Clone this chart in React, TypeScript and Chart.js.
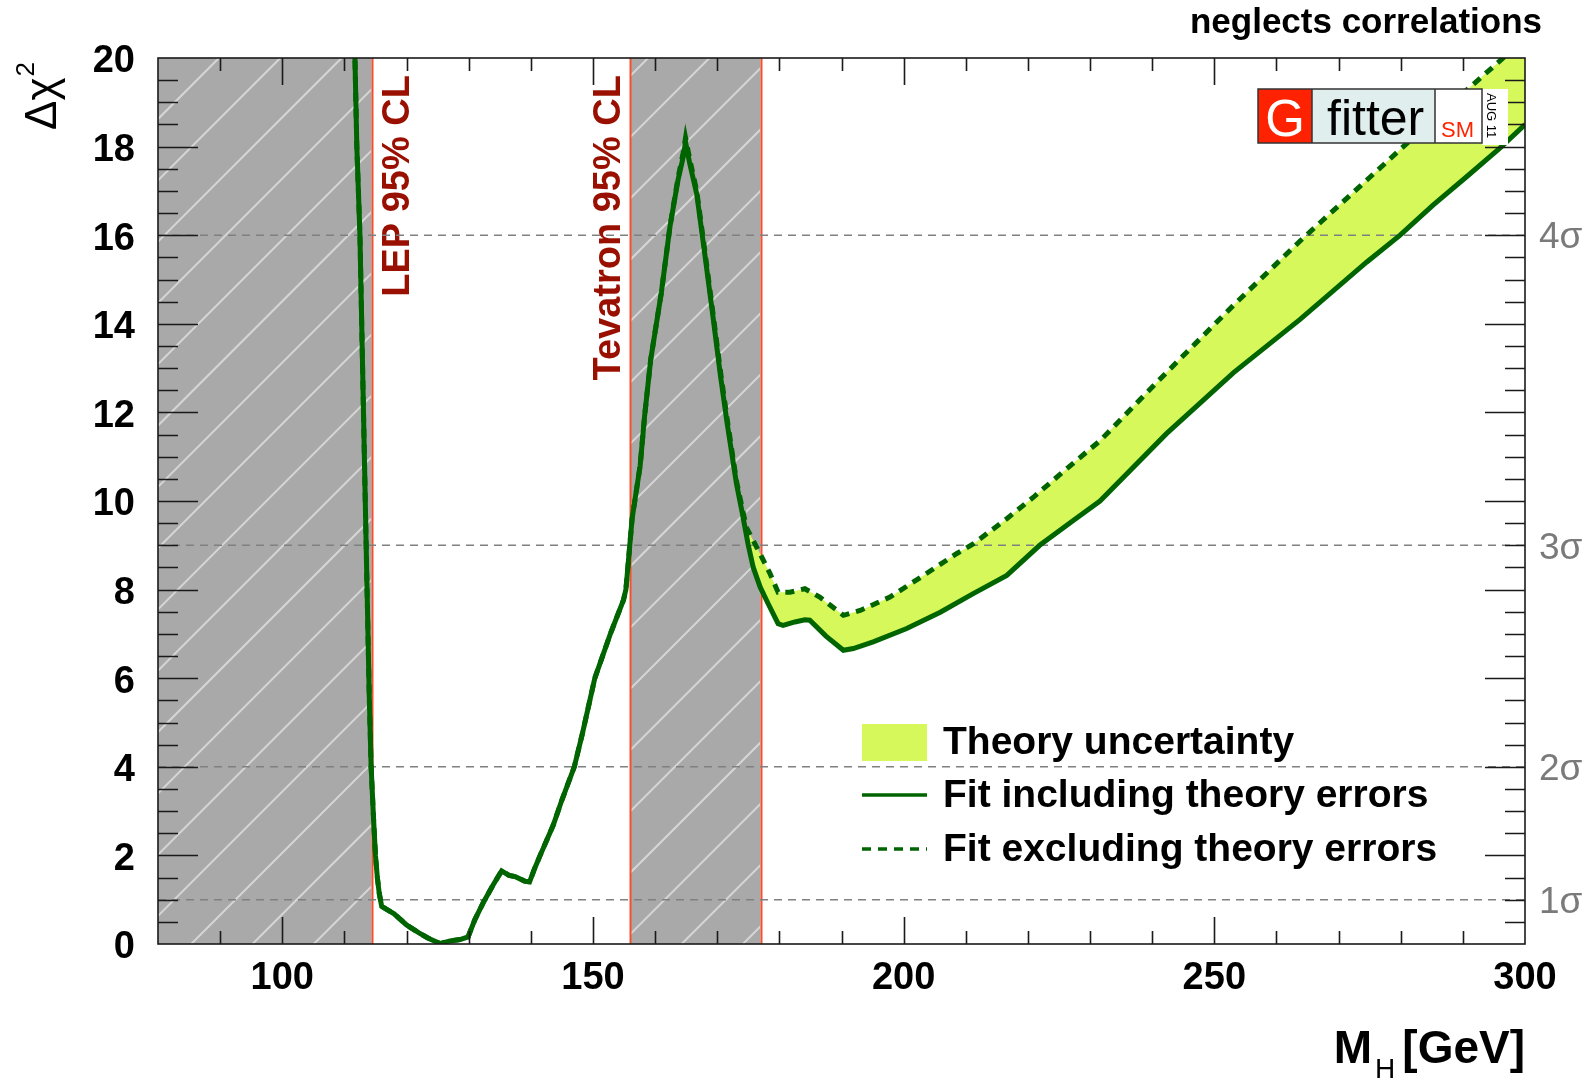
import { useEffect, useRef } from "react";
import { Chart, registerables } from "chart.js";

Chart.register(...registerables);

// ---- data ----
const massIncl = [
  111.65, 112.0, 112.5, 113.0, 113.5, 114.0, 114.3, 114.7, 115.0, 115.3, 115.6, 116.0, 116.8, 118.0, 120.0,
  122.0, 123.5, 125.4, 127.0, 128.6, 129.9, 131.0, 132.4, 134.0, 135.3, 136.5, 137.5, 139.0, 139.8, 140.6,
  141.5, 143.6, 145.0, 147.0, 148.3, 149.5, 150.3, 152.8, 154.9, 155.3, 155.8, 156.3, 157.6, 158.3, 159.3,
  161.0, 162.4, 163.7, 164.5, 164.9, 165.6, 166.7, 168.0, 169.4, 170.5, 171.6, 173.1, 174.0, 175.0, 175.8,
  176.9, 178.2, 179.8, 180.6, 182.5, 184.1, 184.9, 187.5, 190.3, 191.9, 195.1, 200.5, 205.9, 211.2, 216.6,
  221.9, 227.3, 231.6, 242.3, 253.1, 263.8, 274.5, 279.9, 285.2, 290.6, 296.0, 300.0,
];
const chi2Incl = [
  20.3, 18.0, 16.0, 12.5, 9.0, 5.6, 4.0, 2.8, 2.0, 1.5, 1.15, 0.85, 0.78, 0.68, 0.43,
  0.25, 0.13, 0.01, 0.07, 0.1, 0.16, 0.55, 0.95, 1.35, 1.65, 1.55, 1.52, 1.42, 1.4, 1.7,
  2.0, 2.68, 3.25, 4.0, 4.75, 5.5, 6.0, 7.0, 7.76, 8.0, 8.8, 9.6, 10.8, 11.9, 13.2,
  14.7, 16.2, 17.25, 17.75, 18.1, 17.6, 16.93, 15.57, 14.07, 12.85, 11.75, 10.39, 9.75, 9.0, 8.5,
  8.06, 7.68, 7.23, 7.19, 7.27, 7.32, 7.31, 6.95, 6.63, 6.67, 6.82, 7.12, 7.49, 7.91, 8.32,
  9.0, 9.56, 10.0, 11.52, 12.9, 14.1, 15.39, 16.0, 16.68, 17.32, 17.97, 18.5,
];
const massExcl = [
  111.65, 112.0, 112.5, 113.0, 113.5, 114.0, 114.3, 114.7, 115.0, 115.3, 115.6, 116.0, 116.8, 118.0, 120.0,
  122.0, 123.5, 125.4, 127.0, 128.6, 129.9, 131.0, 132.4, 134.0, 135.3, 136.5, 137.5, 139.0, 139.8, 140.6,
  141.5, 143.6, 145.0, 147.0, 148.3, 149.5, 150.3, 152.8, 154.9, 155.3, 155.8, 156.3, 157.6, 158.3, 159.3,
  161.0, 162.4, 163.7, 164.5, 164.9, 165.6, 166.7, 168.0, 169.4, 170.5, 171.6, 173.1, 174.0, 174.7, 176.9,
  178.5, 179.8, 181.7, 184.1, 186.5, 190.3, 193.0, 197.8, 203.2, 208.5, 211.2, 216.6, 221.0, 226.0, 231.6,
  242.3, 253.1, 263.8, 274.5, 285.2, 296.0, 300.0,
];
const chi2Excl = [
  20.3, 18.0, 16.0, 12.5, 9.0, 5.6, 4.0, 2.8, 2.0, 1.5, 1.15, 0.85, 0.78, 0.68, 0.43,
  0.25, 0.13, 0.01, 0.07, 0.1, 0.16, 0.55, 0.95, 1.35, 1.65, 1.55, 1.52, 1.42, 1.4, 1.7,
  2.0, 2.68, 3.25, 4.0, 4.75, 5.5, 6.0, 7.0, 7.76, 8.0, 8.8, 9.6, 10.8, 11.9, 13.2,
  14.7, 16.2, 17.3, 17.85, 18.2, 17.7, 17.0, 15.65, 14.15, 12.95, 11.85, 10.45, 9.85, 9.4, 8.81,
  8.36, 7.94, 7.94, 8.02, 7.83, 7.42, 7.53, 7.83, 8.32, 8.81, 9.03, 9.6, 10.1, 10.7, 11.36,
  12.9, 14.42, 15.87, 17.24, 18.61, 19.94, 20.45,
];

const sigmaLevels = [1, 4, 9, 16];
const sigmaLabels = ["1σ", "2σ", "3σ", "4σ"];
const excludedRanges = [
  [80, 114.4],
  [156, 177],
];
const exclusionEdges = [114.4, 156, 177];
const exclusionLabels = ["LEP 95% CL", "Tevatron 95% CL"];
const exclusionLabelAt = [114.4, 156];
const legendLabels = ["Theory uncertainty", "Fit including theory errors", "Fit excluding theory errors"];
const X_MIN = 80;
const X_MAX = 300;
const Y_MIN = 0;
const Y_MAX = 20;
const X_MAJOR = 50;
const X_MINOR = 10;
const Y_MAJOR = 2;
const Y_MINOR = 0.5;

// ---- style ----
const FONT = '"Liberation Sans", Arial, Helvetica, sans-serif';
const GREEN = "#006400";
const BAND = "#d6f85a";
const GRAY_BAND = "#a9a9a9";
const HATCH = "#d6d6d6";
const RED_EDGE = "#f5502d";
const DARK_RED = "#990f00";

const decorPlugin = {
  id: "decor",
  beforeDatasetsDraw(chart: any) {
    const { ctx, chartArea: a, scales } = chart;
    const x = scales.x;
    ctx.save();
    // grey excluded regions with hatching
    excludedRanges.forEach(([lo, hi]) => {
      const x0 = x.getPixelForValue(lo);
      const x1 = x.getPixelForValue(hi);
      ctx.save();
      ctx.beginPath();
      ctx.rect(x0, a.top, x1 - x0, a.bottom - a.top);
      ctx.clip();
      ctx.fillStyle = GRAY_BAND;
      ctx.fillRect(x0, a.top, x1 - x0, a.bottom - a.top);
      ctx.strokeStyle = HATCH;
      ctx.lineWidth = 2;
      const step = 61.3;
      const c0 = a.left + a.top + 61;
      for (let k = -5; k < 40; k++) {
        const c = c0 + k * step;
        ctx.beginPath();
        ctx.moveTo(c - a.top, a.top);
        ctx.lineTo(c - a.bottom, a.bottom);
        ctx.stroke();
      }
      ctx.restore();
    });
    // red edges
    ctx.strokeStyle = RED_EDGE;
    ctx.lineWidth = 2;
    exclusionEdges.forEach((v) => {
      const px = Math.round(x.getPixelForValue(v)) + 0.5;
      ctx.beginPath();
      ctx.moveTo(px, a.top);
      ctx.lineTo(px, a.bottom);
      ctx.stroke();
    });
    // rotated labels
    ctx.fillStyle = DARK_RED;
    ctx.font = `bold 38px ${FONT}`;
    ctx.textAlign = "right";
    ctx.textBaseline = "alphabetic";
    exclusionLabels.forEach((t, i) => {
      const px = x.getPixelForValue(exclusionLabelAt[i]);
      const bx = i === 0 ? px + 37 : px - 10;
      ctx.save();
      ctx.translate(bx, a.top + 17);
      ctx.rotate(-Math.PI / 2);
      ctx.fillText(t, 0, 0);
      ctx.restore();
    });
    ctx.restore();
  },
  afterDatasetsDraw(chart: any) {
    const { ctx, chartArea: a, scales } = chart;
    const x = scales.x;
    const y = scales.y;
    ctx.save();
    // frame
    ctx.strokeStyle = "#1a1a1a";
    ctx.lineWidth = 1.6;
    ctx.strokeRect(a.left, a.top, a.right - a.left, a.bottom - a.top);
    // ticks
    ctx.lineWidth = 1.6;
    ctx.beginPath();
    for (let v = X_MIN + X_MINOR; v < X_MAX; v += X_MINOR) {
      const px = Math.round(x.getPixelForValue(v)) + 0.5;
      const len = Math.abs(v % X_MAJOR) < 1e-6 ? 27 : 13;
      ctx.moveTo(px, a.bottom);
      ctx.lineTo(px, a.bottom - len);
      ctx.moveTo(px, a.top);
      ctx.lineTo(px, a.top + len);
    }
    for (let v = Y_MIN + Y_MINOR; v < Y_MAX - 1e-6; v += Y_MINOR) {
      const py = Math.round(y.getPixelForValue(v)) + 0.5;
      const len = Math.abs(v % Y_MAJOR) < 1e-6 ? 40 : 20;
      ctx.moveTo(a.left, py);
      ctx.lineTo(a.left + len, py);
      ctx.moveTo(a.right, py);
      ctx.lineTo(a.right - len, py);
    }
    ctx.stroke();

    // sigma labels
    ctx.fillStyle = "#7a7a7a";
    ctx.font = `37px ${FONT}`;
    ctx.textAlign = "left";
    ctx.textBaseline = "middle";
    sigmaLevels.forEach((v, i) => {
      ctx.fillText(sigmaLabels[i], a.right + 14, y.getPixelForValue(v) + 3);
    });

    // legend
    const lx0 = 862;
    const lx1 = 927;
    const tx = 943;
    const rows = [742, 795, 849];
    ctx.fillStyle = BAND;
    ctx.fillRect(lx0, 724, lx1 - lx0, 37);
    ctx.strokeStyle = GREEN;
    ctx.lineWidth = 3.5;
    ctx.beginPath();
    ctx.moveTo(lx0, rows[1]);
    ctx.lineTo(lx1, rows[1]);
    ctx.stroke();
    ctx.setLineDash([9, 7]);
    ctx.beginPath();
    ctx.moveTo(lx0, rows[2]);
    ctx.lineTo(lx1, rows[2]);
    ctx.stroke();
    ctx.setLineDash([]);
    ctx.fillStyle = "#000";
    ctx.font = `bold 39px ${FONT}`;
    ctx.textBaseline = "middle";
    legendLabels.forEach((t, i) => ctx.fillText(t, tx, rows[i] + 1));

    // x axis title
    ctx.textBaseline = "alphabetic";
    ctx.textAlign = "right";
    ctx.font = `bold 46px ${FONT}`;
    const gev = "[GeV]";
    ctx.fillText(gev, a.right, 1063);
    const wG = ctx.measureText(gev).width;
    ctx.font = `28px ${FONT}`;
    const subX = a.right - wG - 7;
    ctx.fillText("H", subX, 1078);
    const wH = ctx.measureText("H").width;
    ctx.font = `bold 46px ${FONT}`;
    ctx.fillText("M", subX - wH - 3, 1063);

    // y axis title
    ctx.save();
    ctx.translate(56, 130);
    ctx.rotate(-Math.PI / 2);
    ctx.textAlign = "left";
    ctx.font = `44px ${FONT}`;
    ctx.fillText("Δχ", 0, 0);
    const wD = ctx.measureText("Δχ").width;
    ctx.font = `26px ${FONT}`;
    ctx.fillText("2", wD + 1, -22);
    ctx.restore();

    // top-right note
    ctx.textAlign = "right";
    ctx.font = `bold 35px ${FONT}`;
    ctx.fillText("neglects correlations", 1542, 33);

    // Gfitter logo
    const lt = 89;
    const lb = 143;
    ctx.fillStyle = "#ff2200";
    ctx.fillRect(1258, lt, 54, lb - lt);
    ctx.fillStyle = "#e0eeee";
    ctx.fillRect(1312, lt, 123, lb - lt);
    ctx.fillStyle = "#ffffff";
    ctx.fillRect(1435, lt, 47, lb - lt);
    ctx.fillRect(1482, lt, 26, lb - lt + 2);
    ctx.strokeStyle = "#333";
    ctx.lineWidth = 1.5;
    ctx.strokeRect(1258, lt, 224, lb - lt);
    ctx.beginPath();
    ctx.moveTo(1312, lt);
    ctx.lineTo(1312, lb);
    ctx.moveTo(1435, lt);
    ctx.lineTo(1435, lb);
    ctx.stroke();
    ctx.textAlign = "center";
    ctx.fillStyle = "#fff";
    ctx.font = `51px ${FONT}`;
    ctx.fillText("G", 1285, 136);
    ctx.textAlign = "left";
    ctx.fillStyle = "#000";
    ctx.font = `50px ${FONT}`;
    ctx.fillText("fitter", 1327, 135);
    ctx.fillStyle = "#ff2200";
    ctx.font = `22px ${FONT}`;
    ctx.fillText("SM", 1441, 137);
    ctx.save();
    ctx.translate(1487, 93);
    ctx.rotate(Math.PI / 2);
    ctx.fillStyle = "#000";
    ctx.font = `13px ${FONT}`;
    ctx.fillText("AUG 11", 0, 0);
    ctx.restore();

    ctx.restore();
  },
};

export default function App() {
  const ref = useRef<HTMLCanvasElement>(null);
  useEffect(() => {
    const canvas = ref.current;
    if (!canvas) return;
    const pts = (xs: number[], ys: number[]) => xs.map((m, i) => ({ x: m, y: ys[i] }));
    const tickFont = { family: FONT, size: 38, weight: "bold" as const };
    const chart = new Chart(canvas, {
      type: "line",
      data: {
        datasets: [
          {
            label: "band",
            data: pts(massExcl, chi2Excl),
            borderColor: "rgba(0,0,0,0)",
            borderWidth: 0,
            pointRadius: 0,
            backgroundColor: BAND,
            fill: { target: 1, above: BAND, below: BAND },
            order: 5,
          },
          {
            label: "incl",
            data: pts(massIncl, chi2Incl),
            borderColor: GREEN,
            borderWidth: 5,
            pointRadius: 0,
            fill: false,
            order: 2,
          },
          {
            label: "excl",
            data: pts(massExcl, chi2Excl),
            borderColor: GREEN,
            borderWidth: 5,
            borderDash: [9, 7],
            pointRadius: 0,
            fill: false,
            order: 1,
          },
          ...sigmaLevels.map((v) => ({
            label: "sigma" + v,
            data: [
              { x: X_MIN, y: v },
              { x: X_MAX, y: v },
            ],
            borderColor: "#808080",
            borderWidth: 1.5,
            borderDash: [8, 6],
            pointRadius: 0,
            fill: false,
            order: 4,
          })),
        ],
      },
      options: {
        animation: false,
        responsive: false,
        devicePixelRatio: 1,
        events: [],
        layout: { padding: { top: 58, right: 70, left: 0, bottom: 0 } },
        plugins: {
          legend: { display: false },
          tooltip: { enabled: false },
          filler: { propagate: false },
        },
        scales: {
          x: {
            type: "linear",
            min: X_MIN,
            max: X_MAX,
            grid: { display: false, drawTicks: false, tickLength: 0 },
            border: { display: false },
            ticks: {
              stepSize: X_MAJOR,
              includeBounds: false,
              autoSkip: false,
              maxRotation: 0,
              font: tickFont,
              color: "#000",
              padding: 12,
            },
            afterFit: (s: any) => {
              s.height = 136;
            },
          },
          y: {
            type: "linear",
            min: Y_MIN,
            max: Y_MAX,
            grid: { display: false, drawTicks: false, tickLength: 0 },
            border: { display: false },
            ticks: {
              stepSize: Y_MAJOR,
              autoSkip: false,
              font: tickFont,
              color: "#000",
              padding: 23,
              labelOffset: 4,
            },
            afterFit: (s: any) => {
              s.width = 158;
            },
          },
        },
      } as any,
      plugins: [decorPlugin],
    });
    return () => chart.destroy();
  }, []);
  return (
    <div style={{ position: "absolute", left: 0, top: 0, width: 1595, height: 1080, background: "#fff" }}>
      <canvas ref={ref} width={1595} height={1080} style={{ display: "block", width: 1595, height: 1080 }} />
    </div>
  );
}
